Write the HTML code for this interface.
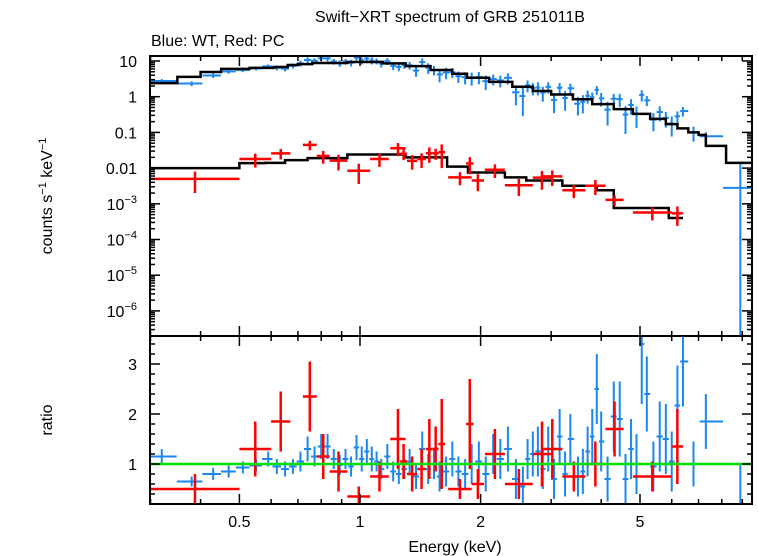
<!DOCTYPE html>
<html><head><meta charset="utf-8">
<style>
html,body{margin:0;padding:0;background:#fff;}
svg{display:block;font-family:"Liberation Sans",sans-serif;}
</style></head>
<body>
<svg id="chart" width="758" height="556" viewBox="0 0 758 556" xmlns="http://www.w3.org/2000/svg">
<text x="450" y="22" font-size="16" text-anchor="middle">Swift−XRT spectrum of GRB 251011B</text>
<text x="151" y="46" font-size="16">Blue: WT, Red: PC</text>
<text transform="translate(52,196) rotate(-90)" font-size="16" text-anchor="middle">counts s<tspan dy="-6" font-size="11">−1</tspan><tspan dy="6"> keV</tspan><tspan dy="-6" font-size="11">−1</tspan></text>
<text transform="translate(52,420) rotate(-90)" font-size="16" text-anchor="middle">ratio</text>
<text x="455" y="552" font-size="16" text-anchor="middle">Energy (keV)</text>
<g id="marks"></g>
</svg>
<script>
// ---- data ----
const xTickMajor = [0.5, 1, 2, 5];
const xTickLabels = ["0.5", "1", "2", "5"];
const xTickMinor = [0.3, 0.4, 0.6, 0.7, 0.8, 0.9, 3, 4, 6, 7, 8, 9];
const yTopExps = [1, 0, -1, -2, -3, -4, -5, -6];
const yTopLabels = ["10", "1", "0.1", "0.01", "10^-3", "10^-4", "10^-5", "10^-6"];
const ratioTicks = [1, 2, 3];
const ratioTickLabels = ["1", "2", "3"];

const wtEnergy = [0.32,0.38,0.43,0.47,0.51,0.55,0.59,0.62,0.65,0.68,0.71,0.74,0.77,0.80,0.83,0.86,0.89,0.92,0.95,0.98,1.01,1.04,1.07,1.10,1.13,1.17,1.21,1.25,1.29,1.33,1.38,1.43,1.48,1.53,1.58,1.64,1.70,1.76,1.83,1.90,1.98,2.06,2.15,2.24,2.34,2.45,2.55,2.62,2.70,2.78,2.86,2.95,3.05,3.15,3.25,3.35,3.5,3.6,3.7,3.8,3.9,4.0,4.15,4.3,4.45,4.6,4.75,4.9,5.05,5.2,5.4,5.6,5.8,6.0,6.2,6.4,6.8,7.3,8.9];
const wtRatio = [1.15,0.65,0.8,0.85,0.93,0.97,1.1,0.95,0.9,0.95,1.05,1.3,1.15,1.35,1.35,1.1,0.98,1.1,0.95,1.33,1.1,1.25,1.1,1.05,0.9,1.15,0.85,0.8,0.9,1.05,0.75,1.3,0.9,1.0,0.75,0.85,1.1,0.85,0.8,1.0,1.05,0.8,1.2,1.1,1.3,0.7,0.55,1.1,1.2,1.25,0.9,1.3,0.7,1.55,0.8,1.5,0.75,0.85,1.25,1.55,2.5,1.45,0.7,1.95,1.9,0.7,1.3,1.0,3.4,2.4,0.95,1.55,1.5,1.05,2.17,3.05,1.0,1.85,0.2];
const wtRatioErr = [0.15,0.1,0.12,0.12,0.12,0.12,0.15,0.15,0.15,0.15,0.2,0.25,0.2,0.25,0.25,0.2,0.2,0.2,0.2,0.25,0.25,0.25,0.25,0.2,0.2,0.25,0.2,0.2,0.2,0.25,0.25,0.35,0.3,0.3,0.3,0.3,0.35,0.3,0.3,0.4,0.4,0.35,0.4,0.4,0.45,0.4,0.4,0.4,0.45,0.5,0.4,0.45,0.4,0.55,0.45,0.5,0.4,0.45,0.5,0.55,0.7,0.6,0.45,0.7,0.75,0.5,0.6,0.6,1.2,0.75,0.5,0.7,0.7,0.6,0.8,0.9,0.45,0.55,0.8];
const wtModelEdges = [0.3,0.35,0.40,0.45,0.53,0.61,0.66,0.70,0.76,0.93,1.14,1.3,1.5,1.7,1.85,2.1,2.4,2.7,3.0,3.4,3.8,4.3,4.8,5.3,5.8,6.2,6.6,7.0,7.3,8.2,9.6];
const wtModelVals = [2.4,3.6,4.9,6.0,6.4,6.8,7.7,8.2,8.8,9.4,8.6,7.2,5.6,4.4,3.4,2.6,1.9,1.45,1.15,0.85,0.62,0.45,0.33,0.24,0.17,0.13,0.1,0.085,0.042,0.014];

const pcLo = [0.30,0.50,0.60,0.72,0.78,0.84,0.93,1.06,1.19,1.26,1.31,1.39,1.46,1.52,1.57,1.66,1.84,1.90,2.05,2.30,2.70,2.85,3.20,3.65,4.10,4.80,6.00];
const pcHi = [0.50,0.60,0.67,0.78,0.84,0.93,1.06,1.18,1.30,1.31,1.39,1.46,1.52,1.57,1.63,1.90,1.92,2.04,2.30,2.70,3.00,3.20,3.65,4.10,4.55,6.00,6.40];
const pcRatio = [0.5,1.3,1.85,2.35,1.15,0.85,0.35,0.75,1.5,1.05,0.8,0.9,1.3,1.3,1.4,0.5,1.8,0.6,1.2,0.6,1.2,1.3,0.75,1.0,1.7,0.75,1.35];
const pcRatioErr = [0.3,0.55,0.6,0.7,0.45,0.4,0.2,0.3,0.6,0.35,0.35,0.4,0.6,0.45,0.9,0.2,0.9,0.3,0.5,0.3,0.65,0.6,0.3,0.45,0.55,0.3,0.75];
const pcModelEdges = [0.3,0.5,0.58,0.65,0.74,0.93,1.3,1.65,1.86,2.3,2.6,3.2,3.9,4.3,5.9,6.4];
const pcModelVals = [0.01,0.0138,0.014,0.0167,0.019,0.024,0.02,0.011,0.0075,0.0055,0.0045,0.0032,0.0024,0.00076,0.0004];

// ---- axes ----
const XL = 150, XR = 752, YT = 56, YM = 336, YB = 504;
const xS = e => 360 + 400.6 * Math.log10(e);
const yTop = v => 61 - 35.7 * (Math.log10(v) - 1);
const yRat = r => 464 - 50 * (r - 1);
const cl = (v, a, b) => Math.max(a, Math.min(b, v));
const NS = "http://www.w3.org/2000/svg";
const g = document.getElementById("marks");
function mk(tag, attrs, parent) {
  const el = document.createElementNS(NS, tag);
  for (const k in attrs) el.setAttribute(k, attrs[k]);
  (parent || g).appendChild(el);
  return el;
}
function line(x1, y1, x2, y2, c, w, name) {
  const el = mk("line", {x1, y1, x2, y2, stroke: c, "stroke-width": w});
  
  
  return el;
}
function modelAt(edges, vals, e) {
  for (let i = 0; i < vals.length; i++) if (e >= edges[i] && e < edges[i + 1]) return vals[i];
  return vals[vals.length - 1];
}
function stepPath(edges, vals, yf, name) {
  let d = "";
  for (let i = 0; i < vals.length; i++) {
    const y = yf(vals[i]);
    d += (i === 0 ? "M" : "L") + cl(xS(edges[i]), XL, XR) + "," + y + "L" + cl(xS(edges[i + 1]), XL, XR) + "," + y;
  }
  const p = mk("path", {d, fill: "none", stroke: "#000", "stroke-width": 2.5});
  
  
}

// WT points
const BLUE = "#1a87f0", RED = "#ff0000";
for (let i = 0; i < wtEnergy.length; i++) {
  const e = wtEnergy[i];
  const lo = i === 0 ? 0.3 : Math.sqrt(wtEnergy[i - 1] * e);
  const hi = i === wtEnergy.length - 1 ? 9.6 : Math.sqrt(wtEnergy[i + 1] * e);
  const m = modelAt(wtModelEdges, wtModelVals, e);
  const r = wtRatio[i], er = wtRatioErr[i];
  const v = r * m;
  const vLo = Math.max((r - er) * m, 1e-8), vHi = (r + er) * m;
  line(cl(xS(lo), XL, XR), yTop(v), cl(xS(hi), XL, XR), yTop(v), BLUE, 2, "wt-point-x-error");
  line(xS(e), cl(yTop(vLo), YT, YM), xS(e), cl(yTop(vHi), YT, YM), BLUE, 2, "wt-point-y-error");
  line(cl(xS(lo), XL, XR), yRat(r), cl(xS(hi), XL, XR), yRat(r), BLUE, 2, "wt-ratio-x-error");
  line(xS(e), cl(yRat(r - er), YM, YB), xS(e), cl(yRat(r + er), YM, YB), BLUE, 2, "wt-ratio-y-error");
}
// top-panel models
stepPath(wtModelEdges, wtModelVals, yTop, "wt-model-line");
stepPath(pcModelEdges, pcModelVals, yTop, "pc-model-line");
// PC points
for (let i = 0; i < pcLo.length; i++) {
  const e = Math.sqrt(pcLo[i] * pcHi[i]);
  const m = modelAt(pcModelEdges, pcModelVals, e);
  const r = pcRatio[i], er = pcRatioErr[i];
  const v = r * m;
  const vLo = Math.max((r - er) * m, 1e-8), vHi = (r + er) * m;
  line(xS(pcLo[i]), yTop(v), xS(pcHi[i]), yTop(v), RED, 2.5, "pc-point-x-error");
  line(xS(e), yTop(vLo), xS(e), yTop(vHi), RED, 2.5, "pc-point-y-error");
  line(xS(pcLo[i]), yRat(r), xS(pcHi[i]), yRat(r), RED, 2.5, "pc-ratio-x-error");
  line(xS(e), cl(yRat(r - er), YM, YB), xS(e), cl(yRat(r + er), YM, YB), RED, 2.5, "pc-ratio-y-error");
}
// unity line
line(XL, yRat(1), XR, yRat(1), "#00e000", 2.5, "ratio-unity-line");

// frames
for (const [y1, y2, n] of [[YT, YM, "top-panel-frame"], [YM, YB, "ratio-panel-frame"]]) {
  const r = mk("rect", {x: XL, y: y1, width: XR - XL, height: y2 - y1, fill: "none", stroke: "#000", "stroke-width": 2});
  
  
}
// x ticks
for (const [ticks, len] of [[xTickMajor, 10], [xTickMinor, 5]]) {
  for (const t of ticks) {
    const x = xS(t);
    for (const y of [YT, YM]) line(x, y, x, y + len, "#000", 1.5, "x-tick");
    for (const y of [YM, YB]) line(x, y, x, y - len, "#000", 1.5, "x-tick");
  }
}
xTickMajor.forEach((t, i) => {
  const tx = mk("text", {x: xS(t), y: 527, "font-size": 16, "text-anchor": "middle"});
  tx.textContent = xTickLabels[i];
  
  
});
// y ticks top
yTopExps.forEach((ex, i) => {
  const y = yTop(Math.pow(10, ex));
  line(XL, y, XL + 10, y, "#000", 1.5, "y-tick");
  line(XR, y, XR - 10, y, "#000", 1.5, "y-tick");
  const lab = yTopLabels[i];
  const tx = mk("text", {x: 137, y: y + 6, "font-size": 16, "text-anchor": "end"});
  if (lab.indexOf("^") >= 0) {
    const [b, p] = lab.split("^");
    tx.appendChild(document.createTextNode(b));
    const ts = mk("tspan", {dy: -7, "font-size": 11}, tx);
    ts.textContent = p.replace("-", "−");
  } else tx.textContent = lab;
  
  
});
for (let ex = -7; ex <= 1; ex++) for (let k = 2; k <= 9; k++) {
  const y = yTop(k * Math.pow(10, ex));
  if (y < YT || y > YM) continue;
  line(XL, y, XL + 5, y, "#000", 1.5, "y-minor-tick");
  line(XR, y, XR - 5, y, "#000", 1.5, "y-minor-tick");
}
// ratio ticks
for (let r = 0.2; r <= 3.6; r += 0.2) {
  const y = yRat(r);
  if (y < YM || y > YB) continue;
  const major = Math.abs(r - Math.round(r)) < 0.01;
  const len = major ? 10 : 5;
  line(XL, y, XL + len, y, "#000", 1.5, "ratio-tick");
  line(XR, y, XR - len, y, "#000", 1.5, "ratio-tick");
}
ratioTicks.forEach((t, i) => {
  const tx = mk("text", {x: 137, y: yRat(t) + 6, "font-size": 16, "text-anchor": "end"});
  tx.textContent = ratioTickLabels[i];
  
  
});
</script>
</body></html>
